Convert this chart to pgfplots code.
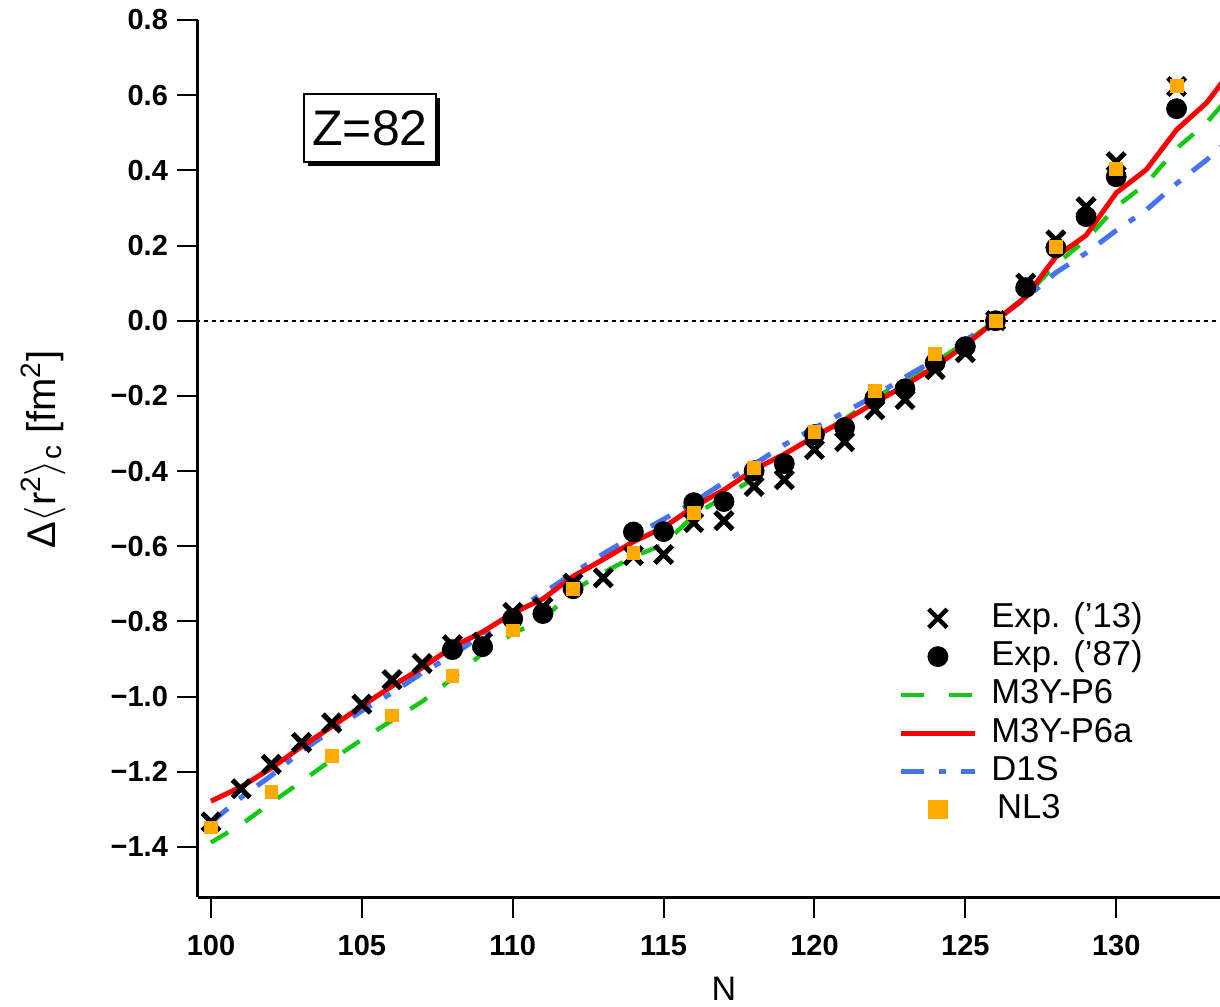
\documentclass[border=0pt]{standalone}
\usepackage{fontspec}
\setmainfont{Liberation Sans}
\usepackage{pgfplots}
\pgfplotsset{compat=1.18}
\usetikzlibrary{shadows}
\definecolor{cgreen}{RGB}{20,200,20}
\definecolor{cred}{RGB}{250,0,0}
\definecolor{cblue}{RGB}{70,115,240}
\definecolor{corange}{RGB}{255,170,0}
\begin{document}
\begin{tikzpicture}
\path[use as bounding box] (-99pt,-54.5pt) rectangle (511pt,448.5pt);
\begin{axis}[
  at={(0,0)}, anchor=south west,
  scale only axis, width=511pt, height=438.5pt,
  xmin=99.57, xmax=133.44, ymin=-1.533, ymax=0.8,
  axis x line*=bottom, axis y line*=left,
  axis line style={line width=1.5pt, black},
  tick align=outside, major tick length=10.5pt,
  every tick/.style={line width=1pt, black},
  xtick={100,105,110,115,120,125,130},
  xticklabels={100,105,110,115,120,125,130},
  ytick={-1.4,-1.2,-1.0,-0.8,-0.6,-0.4,-0.2,0,0.2,0.4,0.6,0.8},
  yticklabels={−1.4,−1.2,−1.0,−0.8,−0.6,−0.4,−0.2,0.0,0.2,0.4,0.6,0.8},
  ticklabel style={font=\bfseries\fontsize{14.5}{16}\selectfont},
  xticklabel style={yshift=-5pt},
  yticklabel style={xshift=-1pt},
  xlabel={N}, ylabel={Δ$\langle$r\textsuperscript{2}$\rangle$\textsubscript{c} [fm\textsuperscript{2}]},
  every axis x label/.style={at={(axis description cs:0.5147,0)}, yshift=-51.5pt, anchor=base, font=\fontsize{17}{20}\selectfont},
  every axis y label/.style={at={(axis description cs:-0.1517,0.51)}, rotate=90, anchor=center, font=\fontsize{20}{22}\selectfont},
  legend image code/.code={\draw[mark repeat=2,mark phase=2,#1] plot coordinates {(0pt,0pt) (18.5pt,0pt) (37pt,0pt)}; \path (44pt,0pt);},
  legend style={draw=none, fill=none, inner sep=0pt, row sep=2.1pt,
    at={(axis description cs:0.6849,0.3375)}, anchor=north west,
    nodes={inner sep=0pt, text height=13pt, text depth=4pt, font=\fontsize{17.3}{20}\selectfont}},
  legend cell align=left,
]
% zero line
\addplot[forget plot, black, line width=1pt, dash pattern=on 2pt off 2pt] coordinates {(99.5,0) (134,0)};
% M3Y-P6
\addplot[forget plot, cgreen, line width=2.2pt, dash pattern=on 10pt off 10pt] coordinates {
(100,-1.388) (101,-1.340) (102,-1.282) (103,-1.226) (104,-1.168) (105,-1.114) (106,-1.063) (107,-1.013)
(108,-0.952) (109,-0.885) (110,-0.832) (111,-0.795) (112,-0.718) (113,-0.670) (114,-0.628) (115,-0.595)
(116,-0.518) (117,-0.468) (118,-0.420) (119,-0.385) (120,-0.305) (121,-0.262) (122,-0.205) (123,-0.160)
(124,-0.110) (125,-0.058) (126,0) (127,0.065) (128,0.150) (129,0.215) (130,0.303) (131,0.365) (132,0.458)
(133,0.527) (134,0.62)};
% D1S
\addplot[forget plot, cblue, line width=2.5pt, dash pattern=on 11pt off 7.5pt on 3.5pt off 7.5pt] coordinates {
(100,-1.335) (101,-1.268) (102,-1.210) (103,-1.145) (104,-1.090) (105,-1.038) (106,-0.990) (107,-0.937)
(108,-0.890) (109,-0.835) (110,-0.775) (111,-0.725) (112,-0.672) (113,-0.620) (114,-0.573) (115,-0.528)
(116,-0.483) (117,-0.430) (118,-0.382) (119,-0.330) (120,-0.285) (121,-0.243) (122,-0.200) (123,-0.150)
(124,-0.104) (125,-0.052) (126,0) (127,0.060) (128,0.128) (129,0.180) (130,0.240) (131,0.295) (132,0.365)
(133,0.428) (134,0.50)};
% M3Y-P6a
\addplot[forget plot, cred, line width=2.5pt] coordinates {
(100,-1.278) (101,-1.240) (102,-1.190) (103,-1.133) (104,-1.080) (105,-1.025) (106,-0.972) (107,-0.923)
(108,-0.868) (109,-0.828) (110,-0.778) (111,-0.740) (112,-0.680) (113,-0.635) (114,-0.588) (115,-0.550)
(116,-0.495) (117,-0.450) (118,-0.396) (119,-0.355) (120,-0.308) (121,-0.265) (122,-0.218) (123,-0.172)
(124,-0.122) (125,-0.065) (126,0) (127,0.063) (128,0.170) (129,0.227) (130,0.340) (131,0.402) (132,0.508)
(133,0.580) (134,0.686)};
% Exp 13
\addplot[forget plot, only marks, black, mark=x, mark size=6.2pt, line width=2.5pt] coordinates {
(100,-1.333) (101,-1.245) (102,-1.180) (103,-1.122) (104,-1.070) (105,-1.020) (106,-0.955) (107,-0.912)
(108,-0.862) (109,-0.855) (110,-0.776) (111,-0.762) (112,-0.698) (113,-0.684) (114,-0.625) (115,-0.622)
(116,-0.537) (117,-0.532) (118,-0.441) (119,-0.423) (120,-0.343) (121,-0.322) (122,-0.237) (123,-0.210)
(124,-0.130) (125,-0.085) (126,0) (127,0.100) (128,0.215) (129,0.303) (130,0.423) (132,0.623)};
% Exp 87
\addplot[forget plot, only marks, black, mark=*, mark size=5pt] coordinates {
(108,-0.875) (109,-0.867) (110,-0.793) (111,-0.779) (112,-0.713) (114,-0.562) (115,-0.561) (116,-0.484)
(117,-0.481) (118,-0.399) (119,-0.380) (120,-0.303) (121,-0.284) (122,-0.207) (123,-0.181) (124,-0.112)
(125,-0.069) (126,0) (127,0.088) (128,0.194) (129,0.277) (130,0.383) (132,0.564)};
% NL3
\addplot[forget plot, only marks, corange, mark=square*, mark size=3.2pt] coordinates {
(100,-1.348) (102,-1.253) (104,-1.157) (106,-1.050) (108,-0.944) (110,-0.824) (112,-0.713) (114,-0.617)
(116,-0.511) (118,-0.391) (120,-0.295) (122,-0.186) (124,-0.088) (126,0) (128,0.196) (130,0.404) (132,0.625)};
% legend
\addlegendimage{only marks, black, mark=x, mark size=6.5pt, line width=2.2pt}
\addlegendentry{Exp. ('13)}
\addlegendimage{only marks, black, mark=*, mark size=5pt}
\addlegendentry{Exp. ('87)}
\addlegendimage{cgreen, line width=2.2pt, dash pattern=on 11.5pt off 12.5pt}
\addlegendentry{M3Y-P6}
\addlegendimage{cred, line width=2.5pt}
\addlegendentry{M3Y-P6a}
\addlegendimage{cblue, line width=2.5pt, dash pattern=on 11.5pt off 7.5pt on 3.5pt off 7.5pt}
\addlegendentry{D1S}
\addlegendimage{only marks, corange, mark=square*, mark size=4.6pt}
\addlegendentry{\,NL3}
\node[draw=black, fill=white, line width=1pt, inner sep=0pt, minimum width=66pt, minimum height=34pt,
  drop shadow={shadow xshift=2pt, shadow yshift=-2pt, fill=black, opacity=1},
  font=\fontsize{25}{28}\selectfont] at (axis description cs:0.1683,0.8769) {Z=82};
\end{axis}
\end{tikzpicture}
\end{document}
